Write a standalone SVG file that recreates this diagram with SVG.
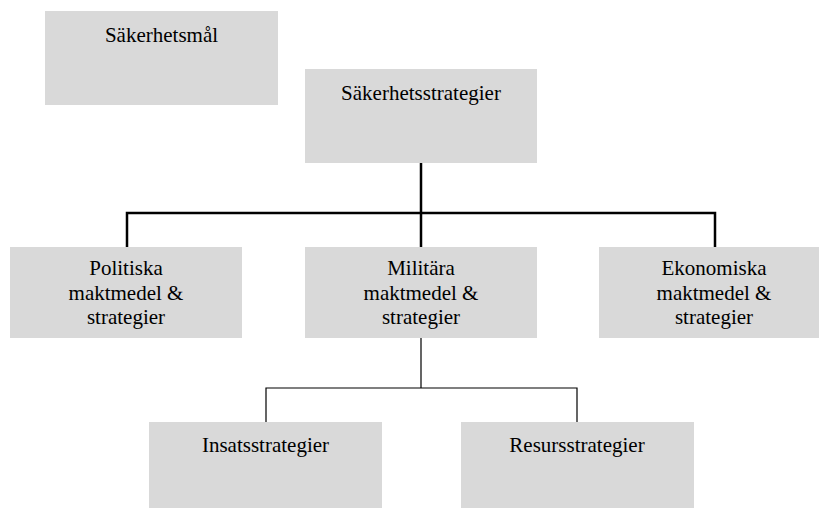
<svg xmlns="http://www.w3.org/2000/svg" width="819" height="508" viewBox="0 0 819 508" font-family="Liberation Serif, Times New Roman, serif">
  <style>
    .box { fill: #d9d9d9; stroke: none; }
    .lbl { font-size: 21px; fill: #000; text-anchor: middle; }
    .thick { stroke: #000; stroke-width: 2.5; fill: none; }
    .thin { stroke: #000; stroke-width: 1.2; fill: none; }
  </style>
  <rect width="819" height="508" fill="#fff"/>

  <g id="connectors">
    <path class="thick" d="M421 163 V213 M127 247 V213 H715 V247 M421 213 V247"/>
    <path class="thin" d="M421 338 V388 M266 422 V388 H577 V422"/>
  </g>

  <g id="sakerhetsmal">
    <rect class="box" x="45" y="11" width="233" height="94"/>
    <text class="lbl" x="161.5" y="42" font-family="Liberation Serif">Säkerhetsmål</text>
  </g>

  <g id="sakerhetsstrategier">
    <rect class="box" x="305" y="69" width="232" height="94"/>
    <text class="lbl" x="421" y="100" font-family="Liberation Serif">Säkerhetsstrategier</text>
  </g>

  <g id="politiska">
    <rect class="box" x="10" y="247" width="232" height="91"/>
    <text class="lbl" x="126" y="275" font-family="Liberation Serif">Politiska</text>
    <text class="lbl" x="126" y="300" font-family="Liberation Serif">maktmedel &amp;</text>
    <text class="lbl" x="126" y="324" font-family="Liberation Serif">strategier</text>
  </g>

  <g id="militara">
    <rect class="box" x="305" y="247" width="232" height="91"/>
    <text class="lbl" x="421" y="275" font-family="Liberation Serif">Militära</text>
    <text class="lbl" x="421" y="300" font-family="Liberation Serif">maktmedel &amp;</text>
    <text class="lbl" x="421" y="324" font-family="Liberation Serif">strategier</text>
  </g>

  <g id="ekonomiska">
    <rect class="box" x="599" y="247" width="232" height="91"/>
    <text class="lbl" x="714" y="275" font-family="Liberation Serif">Ekonomiska</text>
    <text class="lbl" x="714" y="300" font-family="Liberation Serif">maktmedel &amp;</text>
    <text class="lbl" x="714" y="324" font-family="Liberation Serif">strategier</text>
  </g>

  <g id="insatsstrategier">
    <rect class="box" x="149" y="422" width="233" height="86"/>
    <text class="lbl" x="265.5" y="452" font-family="Liberation Serif">Insatsstrategier</text>
  </g>

  <g id="resursstrategier">
    <rect class="box" x="461" y="422" width="233" height="86"/>
    <text class="lbl" x="577" y="452" font-family="Liberation Serif">Resursstrategier</text>
  </g>
</svg>
